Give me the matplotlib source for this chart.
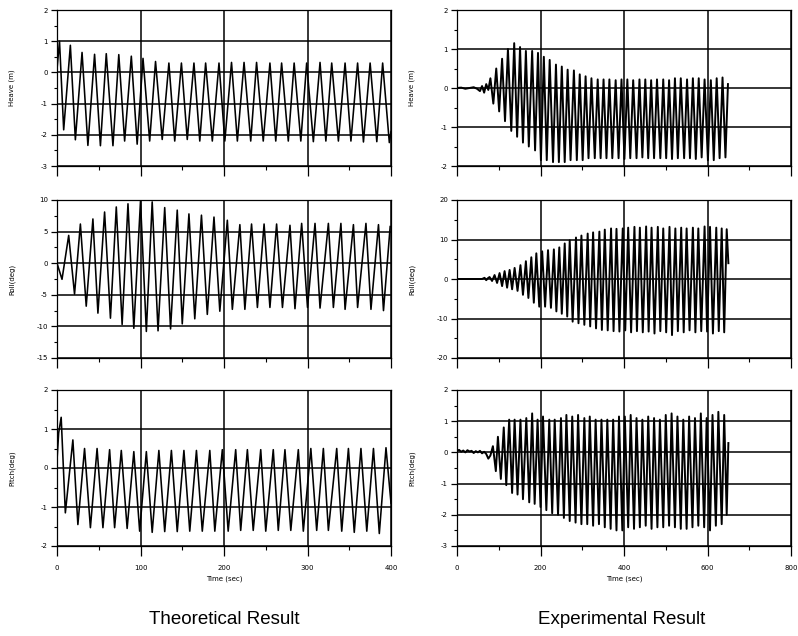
import matplotlib
matplotlib.use('Agg')
import matplotlib.pyplot as plt
import numpy as np

plt.rcParams['axes.unicode_minus'] = False

# ---- theoretical (left column), 0-400 s ----
# heave (m): start, peaks, troughs, end
heave_th_lead_t = [0]
heave_th_lead = [0.1]
heave_th_pk_t = [3, 16, 30, 45, 59, 74, 89, 103, 118, 134, 149, 164, 178, 194, 209, 224, 239, 255, 269, 284, 299, 315, 329, 345, 360, 375, 390]
heave_th_pk = [1.0, 0.87, 0.64, 0.58, 0.6, 0.57, 0.52, 0.45, 0.35, 0.3, 0.3, 0.3, 0.3, 0.3, 0.32, 0.32, 0.32, 0.3, 0.3, 0.3, 0.3, 0.32, 0.3, 0.3, 0.3, 0.3, 0.3]
heave_th_tr_t = [8, 22, 37, 52, 67, 81, 96, 111, 126, 141, 156, 171, 186, 201, 216, 232, 247, 262, 277, 292, 307, 322, 337, 352, 367, 383, 398]
heave_th_tr = [-1.84, -2.16, -2.34, -2.35, -2.35, -2.2, -2.3, -2.2, -2.15, -2.2, -2.15, -2.2, -2.2, -2.2, -2.2, -2.2, -2.2, -2.2, -2.2, -2.2, -2.22, -2.2, -2.2, -2.2, -2.23, -2.22, -2.25]
heave_th_end_t = [400]
heave_th_end = [-1.9]

# roll (deg)
roll_th_lead_t = [0]
roll_th_lead = [0.0]
roll_th_pk_t = [14, 28, 43, 57, 71, 85, 100, 114, 129, 144, 158, 173, 188, 204, 219, 233, 248, 263, 279, 293, 309, 325, 340, 355, 370, 385]
roll_th_pk = [4.4, 6.2, 7.0, 8.1, 8.9, 9.4, 9.8, 9.7, 8.8, 8.4, 7.8, 7.6, 7.3, 6.8, 6.1, 6.2, 6.2, 6.2, 6.0, 6.3, 6.3, 6.3, 6.3, 6.1, 6.3, 6.1]
roll_th_tr_t = [6, 21, 35, 49, 64, 78, 92, 107, 121, 136, 150, 165, 180, 195, 210, 225, 240, 255, 270, 285, 300, 315, 331, 345, 360, 376, 391]
roll_th_tr = [-2.55, -4.9, -6.8, -7.9, -8.7, -9.7, -10.3, -10.8, -10.7, -10.4, -9.6, -8.8, -8.1, -7.6, -7.3, -7.3, -7.0, -7.0, -7.0, -7.2, -7.0, -7.1, -7.0, -7.3, -7.0, -7.3, -7.5]
roll_th_end_t = [399]
roll_th_end = [5.8]

# pitch (deg)
pitch_th_lead_t = [0, 2]
pitch_th_lead = [0.2, 0.9]
pitch_th_pk_t = [5, 19, 33, 48, 63, 77, 92, 107, 122, 137, 152, 167, 183, 198, 214, 228, 244, 259, 273, 289, 304, 319, 335, 349, 364, 379, 394]
pitch_th_pk = [1.3, 0.72, 0.5, 0.5, 0.47, 0.45, 0.42, 0.42, 0.45, 0.45, 0.45, 0.45, 0.45, 0.47, 0.47, 0.47, 0.47, 0.47, 0.47, 0.47, 0.5, 0.5, 0.5, 0.5, 0.5, 0.5, 0.52]
pitch_th_tr_t = [10, 25, 40, 55, 69, 84, 99, 114, 129, 144, 159, 174, 189, 205, 220, 235, 250, 265, 280, 295, 311, 325, 341, 356, 371, 386]
pitch_th_tr = [-1.15, -1.45, -1.53, -1.53, -1.53, -1.55, -1.62, -1.65, -1.63, -1.63, -1.62, -1.62, -1.62, -1.62, -1.6, -1.6, -1.62, -1.6, -1.6, -1.62, -1.6, -1.6, -1.62, -1.65, -1.62, -1.68]
pitch_th_end_t = [400]
pitch_th_end = [-0.9]

# ---- experimental (right column), 0-800 s ----
heave_ex_lead_t = [0, 10, 20, 30, 40, 48, 55, 60, 65, 70, 75]
heave_ex_lead = [0.0, 0.01, -0.02, 0.0, 0.02, -0.02, -0.08, 0.05, -0.12, 0.1, -0.05]
heave_ex_pk_t = [80, 94, 108, 122, 137, 151, 165, 180, 194, 208, 222, 237, 251, 265, 280, 294, 308, 322, 337, 351,
                 365, 380, 394, 408, 422, 437, 451, 465, 479, 494, 508, 522, 536, 551, 565, 579, 593, 608, 622, 636]
heave_ex_pk = [0.25, 0.5, 0.75, 1.0, 1.15, 1.05, 0.95, 0.95, 0.9, 0.8, 0.72, 0.6, 0.55, 0.47, 0.45, 0.35, 0.3, 0.25, 0.22, 0.22,
               0.22, 0.2, 0.22, 0.22, 0.2, 0.22, 0.22, 0.2, 0.22, 0.22, 0.2, 0.25, 0.25, 0.22, 0.25, 0.25, 0.22, 0.2, 0.25, 0.27]
heave_ex_tr_t = [87, 101, 115, 130, 144, 158, 172, 187, 201, 215, 230, 244, 258, 272, 287, 301, 315, 330, 344, 358,
                 372, 387, 401, 415, 430, 444, 458, 472, 487, 501, 515, 529, 544, 558, 572, 586, 601, 615, 629, 643]
heave_ex_tr = [-0.4, -0.6, -0.85, -1.1, -1.25, -1.4, -1.5, -1.6, -1.85, -1.85, -1.9, -1.9, -1.9, -1.85, -1.85, -1.85, -1.8, -1.8, -1.8, -1.8,
               -1.8, -1.8, -1.82, -1.8, -1.8, -1.78, -1.8, -1.8, -1.8, -1.8, -1.82, -1.8, -1.8, -1.8, -1.82, -1.78, -1.85, -1.85, -1.8, -1.78]
heave_ex_end_t = [649]
heave_ex_end = [0.1]

roll_ex_lead_t = [0, 60, 66, 70, 74]
roll_ex_lead = [0.0, 0.0, 0.3, -0.3, 0.2]
roll_ex_pk_t = [78, 90, 102, 114, 126, 138, 152, 165, 178, 190, 204, 218, 232, 245, 258, 270, 285, 298, 313, 326, 341, 354,
                369, 382, 397, 410, 425, 438, 453, 466, 481, 494, 509, 523, 537, 550, 565, 578, 593, 606, 621, 634, 646]
roll_ex_pk = [0.5, 1.0, 1.5, 2.0, 2.3, 2.8, 3.5, 4.5, 5.5, 6.5, 7.0, 7.3, 7.5, 8.0, 9.0, 9.8, 10.5, 11.0, 11.5, 11.8, 12.0, 12.5,
              12.8, 12.7, 12.8, 13.0, 13.2, 13.0, 13.3, 13.0, 13.2, 12.8, 13.2, 12.8, 13.0, 12.8, 13.0, 12.8, 13.3, 13.2, 13.0, 12.8, 12.6]
roll_ex_tr_t = [84, 96, 108, 120, 132, 145, 158, 171, 184, 197, 211, 225, 238, 251, 264, 277, 291, 305, 319, 333, 347,
                361, 375, 389, 403, 417, 431, 445, 459, 473, 487, 501, 515, 529, 543, 557, 571, 585, 599, 613, 627, 640]
roll_ex_tr = [-0.5, -1.0, -1.8, -2.2, -2.6, -3.0, -4.0, -4.8, -6.0, -7.0, -7.0, -7.3, -8.2, -8.8, -9.5, -10.8, -11.2, -11.6, -12.0, -12.5, -12.9,
              -13.0, -13.2, -13.3, -13.0, -13.5, -13.2, -13.5, -13.3, -13.8, -13.2, -13.5, -14.2, -13.2, -13.5, -13.0, -13.5, -13.2, -13.3, -13.8, -13.2, -13.5]
roll_ex_end_t = [650]
roll_ex_end = [4.0]

pitch_ex_lead_t = [0, 5, 10, 15, 20, 25, 30, 35, 40, 45, 50, 55, 60, 65, 70, 75, 80]
pitch_ex_lead = [0.05, 0.08, 0.02, 0.06, 0.0, 0.07, 0.03, 0.05, -0.02, 0.04, 0.0, 0.05, -0.03, 0.02, -0.05, -0.2, -0.1]
pitch_ex_pk_t = [86, 98, 112, 125, 138, 152, 166, 180, 193, 206, 221, 234, 249, 262, 276, 290, 305, 318, 332, 346, 360,
                 374, 388, 402, 416, 430, 444, 458, 472, 486, 500, 514, 528, 542, 556, 570, 584, 598, 612, 626, 640]
pitch_ex_pk = [0.2, 0.5, 0.8, 1.05, 1.05, 1.05, 1.1, 1.25, 1.05, 1.15, 1.05, 1.05, 1.1, 1.2, 1.15, 1.2, 1.1, 1.15, 1.05, 1.05, 1.05,
               1.05, 1.15, 1.15, 1.2, 1.1, 1.05, 1.15, 1.1, 1.05, 1.2, 1.25, 1.15, 1.05, 1.15, 1.1, 1.25, 1.1, 1.2, 1.3, 1.2]
pitch_ex_tr_t = [93, 105, 118, 132, 145, 158, 173, 186, 200, 214, 228, 242, 256, 270, 284, 298, 312, 326, 340, 354,
                 368, 382, 396, 410, 424, 438, 452, 466, 480, 494, 508, 522, 536, 550, 564, 578, 592, 606, 620, 634]
pitch_ex_tr = [-0.6, -0.85, -1.05, -1.3, -1.35, -1.5, -1.6, -1.65, -1.75, -1.85, -1.95, -2.0, -2.1, -2.2, -2.25, -2.3, -2.3, -2.35, -2.3, -2.4,
               -2.45, -2.5, -2.5, -2.4, -2.45, -2.4, -2.35, -2.45, -2.4, -2.4, -2.35, -2.4, -2.45, -2.45, -2.4, -2.35, -2.4, -2.5, -2.35, -2.3]
pitch_ex_end_t = [646, 650]
pitch_ex_end = [-2.0, 0.3]


def trace(lead_t, lead, pk_t, pk, tr_t, tr, end_t, end):
    t = np.concatenate([lead_t, pk_t, tr_t, end_t]).astype(float)
    v = np.concatenate([lead, pk, tr, end]).astype(float)
    order = np.argsort(t, kind='stable')
    return t[order], v[order]


def style(ax, xmax, xstep, ymin, ymax, ystep, ylabel, show_x):
    ax.set_xlim(0, xmax)
    ax.set_ylim(ymin, ymax)
    ax.set_xticks(np.arange(0, xmax + 1, xstep))
    ax.set_xticks(np.arange(xstep / 2, xmax, xstep), minor=True)
    ax.set_yticks(np.arange(ymin, ymax + ystep / 2, ystep))
    ax.set_yticks(np.arange(ymin + ystep / 2, ymax, ystep), minor=True)
    ax.grid(True, which='major', color='black', lw=1.1)
    ax.tick_params(axis='x', which='major', direction='out', length=7, width=0.9, labelsize=5, pad=7)
    ax.tick_params(axis='x', which='minor', direction='out', length=3, width=0.8)
    ax.tick_params(axis='y', which='major', direction='out', length=4.5, width=0.9, labelsize=5, pad=2)
    ax.tick_params(axis='y', which='minor', direction='out', length=2.5, width=0.8)
    if not show_x:
        ax.tick_params(axis='x', labelbottom=False)
    for s in ax.spines.values():
        s.set_linewidth(0.9)
    ax.set_ylabel(ylabel, fontsize=5)
    ax.yaxis.set_label_coords(-0.125, 0.5)


fig = plt.figure(figsize=(7.98, 6.36), dpi=100, facecolor='white')

W = 334 / 798
lefts = [57 / 798, 457 / 798]
rows = [(1 - 166 / 636, 156 / 636), (1 - 358 / 636, 158 / 636), (1 - 546 / 636, 156 / 636)]

panels = [
    # (col, row, data, xmax, xstep, ymin, ymax, ystep, ylabel, lw)
    (0, 0, trace(heave_th_lead_t, heave_th_lead, heave_th_pk_t, heave_th_pk, heave_th_tr_t, heave_th_tr, heave_th_end_t, heave_th_end),
     400, 100, -3, 2, 1, 'Heave (m)', 1.15),
    (0, 1, trace(roll_th_lead_t, roll_th_lead, roll_th_pk_t, roll_th_pk, roll_th_tr_t, roll_th_tr, roll_th_end_t, roll_th_end),
     400, 100, -15, 10, 5, 'Roll(deg)', 1.15),
    (0, 2, trace(pitch_th_lead_t, pitch_th_lead, pitch_th_pk_t, pitch_th_pk, pitch_th_tr_t, pitch_th_tr, pitch_th_end_t, pitch_th_end),
     400, 100, -2, 2, 1, 'Pitch(deg)', 1.15),
    (1, 0, trace(heave_ex_lead_t, heave_ex_lead, heave_ex_pk_t, heave_ex_pk, heave_ex_tr_t, heave_ex_tr, heave_ex_end_t, heave_ex_end),
     800, 200, -2, 2, 1, 'Heave (m)', 1.4),
    (1, 1, trace(roll_ex_lead_t, roll_ex_lead, roll_ex_pk_t, roll_ex_pk, roll_ex_tr_t, roll_ex_tr, roll_ex_end_t, roll_ex_end),
     800, 200, -20, 20, 10, 'Roll(deg)', 1.4),
    (1, 2, trace(pitch_ex_lead_t, pitch_ex_lead, pitch_ex_pk_t, pitch_ex_pk, pitch_ex_tr_t, pitch_ex_tr, pitch_ex_end_t, pitch_ex_end),
     800, 200, -3, 2, 1, 'Pitch(deg)', 1.4),
]

for col, row, (t, v), xmax, xstep, ymin, ymax, ystep, ylab, lw in panels:
    b, h = rows[row]
    ax = fig.add_axes([lefts[col], b, W, h])
    ax.plot(t, v, color='black', lw=lw)
    style(ax, xmax, xstep, ymin, ymax, ystep, ylab, row == 2)
    if row == 2:
        ax.set_xlabel('Time (sec)', fontsize=5, labelpad=3)

fig.text(224 / 798, 1 - 620 / 636, 'Theoretical Result', ha='center', va='center',
         fontsize=13.5, family='Liberation Sans')
fig.text(622 / 798, 1 - 620 / 636, 'Experimental Result', ha='center', va='center',
         fontsize=13.5, family='Liberation Sans')

plt.savefig('out.png', dpi=100, facecolor=fig.get_facecolor())
